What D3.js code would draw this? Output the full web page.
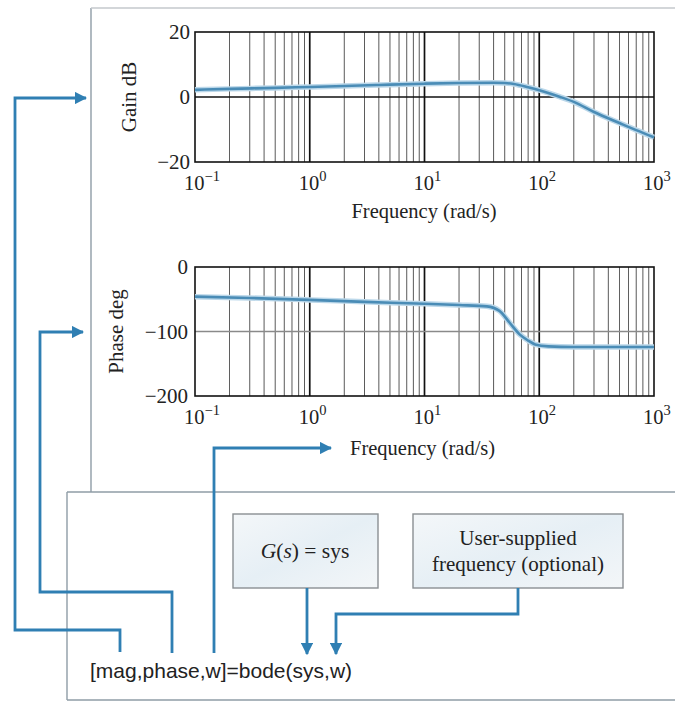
<!DOCTYPE html>
<html><head><meta charset="utf-8">
<script src="https://cdn.jsdelivr.net/npm/d3@7"></script>
<style>html,body{margin:0;padding:0;background:#fff;}svg{display:block;}</style>
</head><body>
<svg id="chart" width="675" height="702"></svg>
<script>
// ---- data ----
const gainFreq = [0.1, 0.2, 0.5, 1, 2, 4, 10, 20, 40, 50, 60, 80, 100, 150, 200, 300, 500, 700, 1000];
const gainDb   = [2.2, 2.5, 2.8, 3.1, 3.4, 3.7, 4.1, 4.3, 4.4, 4.3, 4.0, 3.0, 2.1, 0.1, -1.5, -4.6, -8.0, -10.2, -12.4];
const phaseFreq = [0.1, 0.3, 1, 3, 10, 20, 35, 45, 55, 67, 80, 92, 120, 200, 1000];
const phaseDeg  = [-46, -48, -51, -54, -57, -59, -61, -68, -86, -104, -114, -120, -123, -124, -124];
const xTicks = [0.1, 1, 10, 100, 1000];
const xTickExp = ["\u22121", "0", "1", "2", "3"];
const gainTicks = [20, 0, -20];
const phaseTicks = [0, -100, -200];
const gainTickLabels = ["20", "0", "\u221220"];
const phaseTickLabels = ["0", "\u2212100", "\u2212200"];
const xTitle = "Frequency (rad/s)";
const gainTitle = "Gain dB";
const phaseTitle = "Phase deg";
const codeText = "[mag,phase,w]=bode(sys,w)";

const svg = d3.select("#chart");
const blue = "#2f7fb3";
const curveBlue = "#4a8cb6";
const frameGray = "#8f9ca6";
const serif = "'Liberation Serif','Times New Roman',serif";

// arrow marker
const defs = svg.append("defs");
defs.append("marker").attr("id","ah").attr("viewBox","0 0 10 10")
  .attr("refX",9).attr("refY",5).attr("markerWidth",4.4).attr("markerHeight",4.4)
  .attr("markerUnits","strokeWidth").attr("orient","auto")
  .append("path").attr("d","M0,0L10,5L0,10Z").attr("fill",blue);
const grad = defs.append("linearGradient").attr("id","boxg").attr("x1","0").attr("y1","0").attr("x2","1").attr("y2","1");
grad.append("stop").attr("offset","0").attr("stop-color","#f4f7f9");
grad.append("stop").attr("offset","0.5").attr("stop-color","#e6eff5");
grad.append("stop").attr("offset","1").attr("stop-color","#f3f6f8");

// ---- frames ----
const frame = svg.append("g").attr("stroke",frameGray).attr("stroke-width",1.4).attr("fill","none");
frame.append("line").attr("x1",91).attr("y1",8).attr("x2",91).attr("y2",492);
frame.append("line").attr("x1",91).attr("y1",8).attr("x2",675).attr("y2",8).attr("stroke","#c4c9cd");
frame.append("line").attr("x1",67).attr("y1",492).attr("x2",675).attr("y2",492);
frame.append("line").attr("x1",67).attr("y1",492).attr("x2",67).attr("y2",700);
frame.append("line").attr("x1",67).attr("y1",700).attr("x2",675).attr("y2",700);

// ---- plots ----
const x = d3.scaleLog().domain([0.1, 1000]).range([195, 654]);
function minorTicks() {
  const t = [];
  for (let d = -1; d < 3; d++) for (let m = 2; m <= 9; m++) t.push(m * Math.pow(10, d));
  return t;
}

function drawPlot(cfg) {
  const y = d3.scaleLinear().domain(cfg.domain).range([cfg.bottom, cfg.top]);
  const g = svg.append("g");
  g.append("g").selectAll("line").data(minorTicks()).join("line")
    .attr("x1", d => x(d)).attr("x2", d => x(d))
    .attr("y1", cfg.top).attr("y2", cfg.bottom)
    .attr("stroke", "#1a1a1a").attr("stroke-width", 0.9).attr("opacity", 0.8);
  g.append("g").selectAll("line").data(xTicks.slice(1, -1)).join("line")
    .attr("x1", d => x(d)).attr("x2", d => x(d))
    .attr("y1", cfg.top).attr("y2", cfg.bottom)
    .attr("stroke", "#111").attr("stroke-width", 1.7);
  g.append("line").attr("x1", x(0.1)).attr("x2", x(1000))
    .attr("y1", y(cfg.hgrid)).attr("y2", y(cfg.hgrid))
    .attr("stroke", cfg.hgridColor).attr("stroke-width", 1.4);
  g.append("rect").attr("x", x(0.1)).attr("y", cfg.top)
    .attr("width", x(1000) - x(0.1)).attr("height", cfg.bottom - cfg.top)
    .attr("fill", "none").attr("stroke", "#111").attr("stroke-width", 1.6);
  const line = d3.line().x(d => x(d[0])).y(d => y(d[1])).curve(d3.curveMonotoneX);
  const pts = cfg.freq.map((f, i) => [f, cfg.vals[i]]);
  g.append("path").datum(pts).attr("d", line).attr("fill", "none")
    .attr("stroke", "#bcd8ea").attr("stroke-width", 5.5);
  g.append("path").datum(pts).attr("d", line).attr("fill", "none")
    .attr("stroke", curveBlue).attr("stroke-width", 2.6);
  g.append("g").selectAll("text").data(cfg.yTicks).join("text")
    .attr("x", cfg.yLabelX).attr("y", d => y(d) + 7)
    .attr("text-anchor", "end").attr("font-family", serif).attr("font-size", 21)
    .attr("fill", "#222").text((d, i) => cfg.yLabels[i]);
  const xl = g.append("g").selectAll("text").data(xTicks).join("text")
    .attr("x", d => x(d) - 11).attr("y", cfg.bottom + 28)
    .attr("font-family", serif).attr("font-size", 20.5).attr("fill", "#222");
  xl.append("tspan").text("10");
  xl.append("tspan").attr("dy", -9).attr("font-size", 14.5).text((d, i) => xTickExp[i]);
  g.append("text").attr("transform", `translate(${cfg.yTitleX},${y(cfg.hgrid)}) rotate(-90)`)
    .attr("text-anchor", "middle").attr("font-family", serif).attr("font-size", 21)
    .attr("fill", "#222").text(cfg.yTitle);
  return y;
}

drawPlot({domain: [-20, 20], top: 32, bottom: 162, freq: gainFreq, vals: gainDb,
  yTicks: gainTicks, yLabels: gainTickLabels, yLabelX: 190, hgrid: 0, hgridColor: "#111",
  yTitle: gainTitle, yTitleX: 136});
drawPlot({domain: [-200, 0], top: 267, bottom: 396, freq: phaseFreq, vals: phaseDeg,
  yTicks: phaseTicks, yLabels: phaseTickLabels, yLabelX: 188, hgrid: -100, hgridColor: "#8a8a8a",
  yTitle: phaseTitle, yTitleX: 123});

svg.append("text").attr("x", 424).attr("y", 218).attr("text-anchor", "middle")
  .attr("font-family", serif).attr("font-size", 20.5).attr("fill", "#222").text(xTitle);
svg.append("text").attr("x", 350).attr("y", 455)
  .attr("font-family", serif).attr("font-size", 20.5).attr("fill", "#222").text(xTitle);

// ---- boxes ----
svg.append("rect").attr("x", 233).attr("y", 514).attr("width", 145).attr("height", 74)
  .attr("fill", "url(#boxg)").attr("stroke", "#8a8f93").attr("stroke-width", 1.4);
svg.append("rect").attr("x", 413).attr("y", 514).attr("width", 210).attr("height", 74)
  .attr("fill", "url(#boxg)").attr("stroke", "#8a8f93").attr("stroke-width", 1.4);
const gt = svg.append("text").attr("x", 305).attr("y", 558).attr("text-anchor", "middle")
  .attr("font-family", serif).attr("font-size", 21.5).attr("fill", "#222");
gt.append("tspan").attr("font-style", "italic").text("G");
gt.append("tspan").text("(");
gt.append("tspan").attr("font-style", "italic").text("s");
gt.append("tspan").text(") = sys");
svg.append("text").attr("x", 518).attr("y", 545).attr("text-anchor", "middle")
  .attr("font-family", serif).attr("font-size", 21).attr("fill", "#222").text("User-supplied");
svg.append("text").attr("x", 518).attr("y", 571).attr("text-anchor", "middle")
  .attr("font-family", serif).attr("font-size", 21).attr("fill", "#222").text("frequency (optional)");

svg.append("text").attr("x", 90).attr("y", 678)
  .attr("font-family", "'Liberation Sans',Arial,sans-serif").attr("font-size", 21)
  .attr("fill", "#222").text(codeText);

// ---- arrows ----
const ag = svg.append("g").attr("fill", "none").attr("stroke", blue).attr("stroke-width", 2.8);
ag.append("polyline").attr("points", "120,652 120,630 15,630 15,98 86,98").attr("marker-end", "url(#ah)");
ag.append("polyline").attr("points", "172,653 172,592 40,592 40,332 83,332").attr("marker-end", "url(#ah)");
ag.append("polyline").attr("points", "214,653 214,448 331,448").attr("marker-end", "url(#ah)");
ag.append("polyline").attr("points", "307,588 307,654").attr("marker-end", "url(#ah)");
ag.append("polyline").attr("points", "518,588 518,614 336,614 336,654").attr("marker-end", "url(#ah)");
</script>
</body></html>
